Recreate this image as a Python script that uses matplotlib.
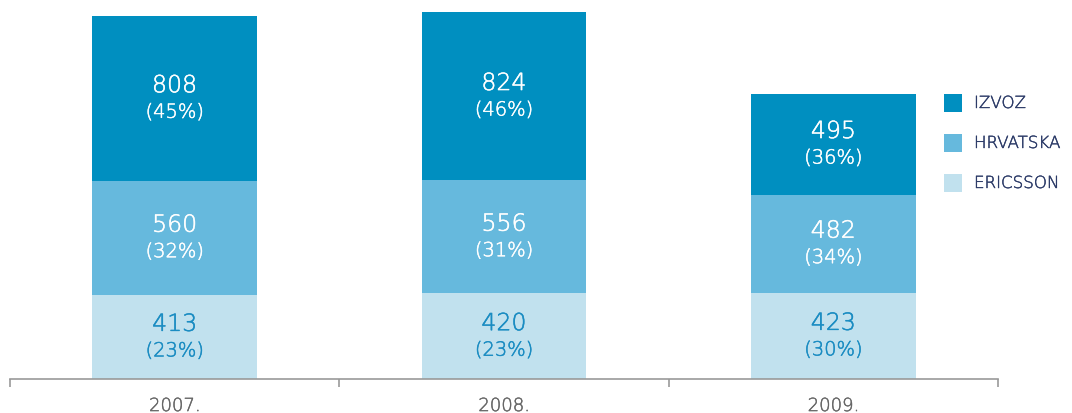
import matplotlib.pyplot as plt
import matplotlib.patheffects as pe
import numpy as np

plt.rcParams['font.family'] = ['DejaVu Sans']

# data
years = ['2007.', '2008.', '2009.']
ericsson = [413, 420, 423]
hrvatska = [560, 556, 482]
izvoz = [808, 824, 495]
ericsson_pct = ['(23%)', '(23%)', '(30%)']
hrvatska_pct = ['(32%)', '(31%)', '(34%)']
izvoz_pct = ['(45%)', '(46%)', '(36%)']

c_izvoz = '#008FC0'
c_hrv = '#66B9DD'
c_eri = '#C1E1EE'
c_text_light = '#1A8CC2'
c_legend = '#2B3A67'


def thick(color, lw=0.35):
    # ExtraLight is a touch too thin, beef it up a little
    return [pe.withStroke(linewidth=lw, foreground=color)]


fig = plt.figure(figsize=(10.72, 4.14), dpi=100)
ax = fig.add_axes([10 / 1072, 34 / 414, 988 / 1072, 380 / 414])

x = np.arange(len(years))
w = 0.5
ax.bar(x, ericsson, width=w, color=c_eri, linewidth=0)
ax.bar(x, hrvatska, width=w, bottom=ericsson, color=c_hrv, linewidth=0)
bottom3 = np.array(ericsson) + np.array(hrvatska)
ax.bar(x, izvoz, width=w, bottom=bottom3, color=c_izvoz, linewidth=0)


def label_segment(xs, bottoms, heights, pcts, color):
    for xi, b, h, p in zip(xs, bottoms, heights, pcts):
        yc = b + h / 2
        ax.annotate(str(h), (xi, yc), xytext=(0, 13), textcoords='offset pixels',
                    ha='center', va='center', fontsize=17, fontweight='light', color=color,
                    path_effects=thick(color))
        ax.annotate(p, (xi, yc), xytext=(0, -14), textcoords='offset pixels',
                    ha='center', va='center', fontsize=14, fontweight='light', color=color,
                    path_effects=thick(color))


label_segment(x, [0, 0, 0], ericsson, ericsson_pct, c_text_light)
label_segment(x, ericsson, hrvatska, hrvatska_pct, 'white')
label_segment(x, bottom3, izvoz, izvoz_pct, 'white')

ax.set_xlim(-0.5, 2.5)
ax.set_ylim(0, 1864)

for s in ['top', 'right', 'left']:
    ax.spines[s].set_visible(False)
ax.spines['bottom'].set_color('#999999')
ax.spines['bottom'].set_linewidth(1.2)
ax.set_yticks([])

# ticks at category boundaries, labels at centers
ax.set_xticks([-0.5, 0.5, 1.5, 2.5])
ax.set_xticklabels([])
ax.tick_params(axis='x', which='major', direction='out', length=6, color='#999999', width=1.2)
ax.set_xticks(x, minor=True)
ax.set_xticklabels(years, minor=True, fontweight='light')
ax.tick_params(axis='x', which='minor', length=0, pad=13, labelsize=13, labelcolor='#666666')
for t in ax.get_xticklabels(minor=True):
    t.set_path_effects(thick('#666666', 0.3))

# legend drawn by hand
legend_items = [('IZVOZ', c_izvoz), ('HRVATSKA', c_hrv), ('ERICSSON', c_eri)]
for i, (name, col) in enumerate(legend_items):
    yp = 104 + i * 40
    fig.patches.append(plt.Rectangle((944 / 1072, 1 - (yp + 9) / 414), 18 / 1072, 18 / 414,
                                     transform=fig.transFigure, color=col, linewidth=0))
    fig.text(974 / 1072, 1 - yp / 414, name, ha='left', va='center',
             fontsize=12, fontweight='light', color=c_legend,
             path_effects=thick(c_legend, 0.3))

fig.savefig('out.png', dpi=100)
